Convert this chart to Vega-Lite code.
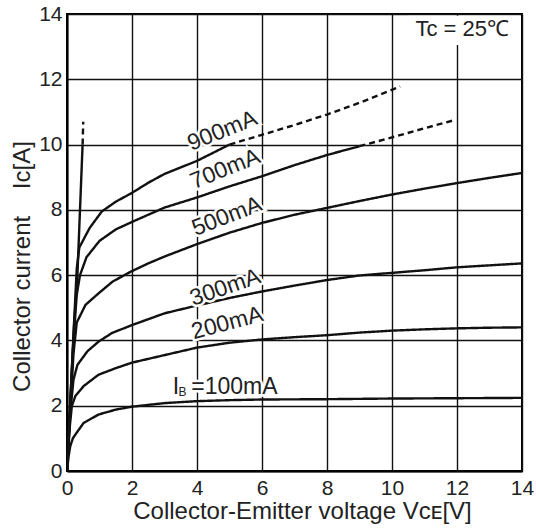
{
  "$schema": "https://vega.github.io/schema/vega-lite/v6.json",
  "width": 455,
  "height": 457,
  "autosize": "none",
  "padding": {"left": 67, "top": 14, "right": 14, "bottom": 59},
  "background": "white",
  "config": {
    "view": {"stroke": "#000", "strokeWidth": 2},
    "font": "Liberation Sans"
  },
  "datasets": {
    "curves": [
      {"s":"sat","p":"solid","v":0,"i":0},{"s":"sat","p":"solid","v":0.12,"i":2.5},{"s":"sat","p":"solid","v":0.22,"i":4.5},{"s":"sat","p":"solid","v":0.32,"i":6.0},{"s":"sat","p":"solid","v":0.4,"i":8.0},{"s":"sat","p":"solid","v":0.48,"i":10.0},
      {"s":"sat","p":"dashed","v":0.48,"i":10.0},{"s":"sat","p":"dashed","v":0.5,"i":10.7},
      {"s":"100mA","p":"solid","v":0,"i":0},{"s":"100mA","p":"solid","v":0.05,"i":0.45},{"s":"100mA","p":"solid","v":0.1,"i":0.76},{"s":"100mA","p":"solid","v":0.18,"i":1.0},{"s":"100mA","p":"solid","v":0.26,"i":1.12},{"s":"100mA","p":"solid","v":0.51,"i":1.47},{"s":"100mA","p":"solid","v":0.97,"i":1.73},{"s":"100mA","p":"solid","v":1.5,"i":1.88},{"s":"100mA","p":"solid","v":2,"i":1.97},{"s":"100mA","p":"solid","v":3,"i":2.08},{"s":"100mA","p":"solid","v":4,"i":2.14},{"s":"100mA","p":"solid","v":5,"i":2.17},{"s":"100mA","p":"solid","v":6,"i":2.19},{"s":"100mA","p":"solid","v":8,"i":2.2},{"s":"100mA","p":"solid","v":10,"i":2.22},{"s":"100mA","p":"solid","v":12,"i":2.23},{"s":"100mA","p":"solid","v":14,"i":2.24},
      {"s":"200mA","p":"solid","v":0,"i":0},{"s":"200mA","p":"solid","v":0.08,"i":1.3},{"s":"200mA","p":"solid","v":0.15,"i":2.0},{"s":"200mA","p":"solid","v":0.26,"i":2.3},{"s":"200mA","p":"solid","v":0.51,"i":2.6},{"s":"200mA","p":"solid","v":0.97,"i":2.95},{"s":"200mA","p":"solid","v":1.5,"i":3.15},{"s":"200mA","p":"solid","v":2,"i":3.32},{"s":"200mA","p":"solid","v":3,"i":3.55},{"s":"200mA","p":"solid","v":4,"i":3.78},{"s":"200mA","p":"solid","v":5,"i":3.93},{"s":"200mA","p":"solid","v":6,"i":4.03},{"s":"200mA","p":"solid","v":7,"i":4.1},{"s":"200mA","p":"solid","v":8,"i":4.16},{"s":"200mA","p":"solid","v":9,"i":4.24},{"s":"200mA","p":"solid","v":10,"i":4.3},{"s":"200mA","p":"solid","v":11,"i":4.34},{"s":"200mA","p":"solid","v":12,"i":4.37},{"s":"200mA","p":"solid","v":13,"i":4.39},{"s":"200mA","p":"solid","v":14,"i":4.4},
      {"s":"300mA","p":"solid","v":0,"i":0},{"s":"300mA","p":"solid","v":0.1,"i":1.8},{"s":"300mA","p":"solid","v":0.2,"i":2.8},{"s":"300mA","p":"solid","v":0.32,"i":3.25},{"s":"300mA","p":"solid","v":0.63,"i":3.67},{"s":"300mA","p":"solid","v":0.98,"i":3.97},{"s":"300mA","p":"solid","v":1.39,"i":4.23},{"s":"300mA","p":"solid","v":2,"i":4.47},{"s":"300mA","p":"solid","v":3,"i":4.83},{"s":"300mA","p":"solid","v":4,"i":5.07},{"s":"300mA","p":"solid","v":5,"i":5.3},{"s":"300mA","p":"solid","v":6,"i":5.5},{"s":"300mA","p":"solid","v":7,"i":5.68},{"s":"300mA","p":"solid","v":8,"i":5.85},{"s":"300mA","p":"solid","v":9,"i":5.99},{"s":"300mA","p":"solid","v":10,"i":6.07},{"s":"300mA","p":"solid","v":11,"i":6.15},{"s":"300mA","p":"solid","v":12,"i":6.24},{"s":"300mA","p":"solid","v":13,"i":6.3},{"s":"300mA","p":"solid","v":14,"i":6.36},
      {"s":"500mA","p":"solid","v":0,"i":0},{"s":"500mA","p":"solid","v":0.1,"i":1.9},{"s":"500mA","p":"solid","v":0.2,"i":3.6},{"s":"500mA","p":"solid","v":0.3,"i":4.55},{"s":"500mA","p":"solid","v":0.57,"i":5.09},{"s":"500mA","p":"solid","v":0.98,"i":5.45},{"s":"500mA","p":"solid","v":1.4,"i":5.8},{"s":"500mA","p":"solid","v":1.95,"i":6.1},{"s":"500mA","p":"solid","v":2.5,"i":6.36},{"s":"500mA","p":"solid","v":3,"i":6.57},{"s":"500mA","p":"solid","v":4,"i":6.95},{"s":"500mA","p":"solid","v":5,"i":7.3},{"s":"500mA","p":"solid","v":6,"i":7.6},{"s":"500mA","p":"solid","v":7,"i":7.85},{"s":"500mA","p":"solid","v":8,"i":8.06},{"s":"500mA","p":"solid","v":9,"i":8.27},{"s":"500mA","p":"solid","v":10,"i":8.47},{"s":"500mA","p":"solid","v":11,"i":8.65},{"s":"500mA","p":"solid","v":12,"i":8.82},{"s":"500mA","p":"solid","v":13,"i":8.98},{"s":"500mA","p":"solid","v":14,"i":9.13},
      {"s":"700mA","p":"solid","v":0,"i":0},{"s":"700mA","p":"solid","v":0.1,"i":2.0},{"s":"700mA","p":"solid","v":0.2,"i":4.0},{"s":"700mA","p":"solid","v":0.3,"i":5.4},{"s":"700mA","p":"solid","v":0.4,"i":6.0},{"s":"700mA","p":"solid","v":0.6,"i":6.55},{"s":"700mA","p":"solid","v":1.0,"i":7.05},{"s":"700mA","p":"solid","v":1.5,"i":7.4},{"s":"700mA","p":"solid","v":2,"i":7.63},{"s":"700mA","p":"solid","v":2.5,"i":7.85},{"s":"700mA","p":"solid","v":3,"i":8.07},{"s":"700mA","p":"solid","v":4,"i":8.38},{"s":"700mA","p":"solid","v":5,"i":8.72},{"s":"700mA","p":"solid","v":6,"i":9.03},{"s":"700mA","p":"solid","v":7,"i":9.37},{"s":"700mA","p":"solid","v":8,"i":9.68},{"s":"700mA","p":"solid","v":9,"i":9.95},
      {"s":"700mA","p":"dashed","v":9,"i":9.95},{"s":"700mA","p":"dashed","v":10,"i":10.22},{"s":"700mA","p":"dashed","v":11,"i":10.5},{"s":"700mA","p":"dashed","v":11.85,"i":10.73},
      {"s":"900mA","p":"solid","v":0,"i":0},{"s":"900mA","p":"solid","v":0.1,"i":2.1},{"s":"900mA","p":"solid","v":0.2,"i":4.2},{"s":"900mA","p":"solid","v":0.3,"i":6.2},{"s":"900mA","p":"solid","v":0.38,"i":6.85},{"s":"900mA","p":"solid","v":0.7,"i":7.45},{"s":"900mA","p":"solid","v":1.07,"i":7.95},{"s":"900mA","p":"solid","v":1.5,"i":8.25},{"s":"900mA","p":"solid","v":2,"i":8.52},{"s":"900mA","p":"solid","v":2.5,"i":8.83},{"s":"900mA","p":"solid","v":3,"i":9.1},{"s":"900mA","p":"solid","v":4,"i":9.5},{"s":"900mA","p":"solid","v":5,"i":10.0},
      {"s":"900mA","p":"dashed","v":5,"i":10.0},{"s":"900mA","p":"dashed","v":6,"i":10.3},{"s":"900mA","p":"dashed","v":7,"i":10.6},{"s":"900mA","p":"dashed","v":8,"i":10.92},{"s":"900mA","p":"dashed","v":9,"i":11.28},{"s":"900mA","p":"dashed","v":10.25,"i":11.78}
    ],
    "labels": [
      {"t":"900mA","v":4.78,"i":10.42},
      {"t":"700mA","v":4.87,"i":9.25},
      {"t":"500mA","v":4.92,"i":7.8},
      {"t":"300mA","v":4.87,"i":5.62},
      {"t":"200mA","v":4.93,"i":4.53},
      {"t":"=100mA","v":5.15,"i":2.56},
      {"t":"I","v":3.35,"i":2.56}
    ]
  },
  "layer": [
    {
      "data": {"name": "curves"},
      "mark": {"type": "line", "color": "#111", "strokeWidth": 2.4, "clip": true},
      "encoding": {
        "x": {
          "field": "v", "type": "quantitative",
          "scale": {"domain": [0, 14], "nice": false, "zero": false},
          "axis": {
            "values": [0,1,2,3,4,5,6,7,8,9,10,11,12,13,14],
            "labelExpr": "datum.value % 2 === 0 ? datum.label : ''",
            "labelFlush": false, "labelOverlap": false,
            "ticks": false, "grid": true, "gridColor": "#111", "gridWidth": 1.4,
            "domainColor": "#000", "domainWidth": 2,
            "labelFont": "Liberation Sans", "labelFontSize": 21, "labelColor": "#222", "labelPadding": 6,
            "title": "Collector-Emitter voltage Vᴄᴇ[V]",
            "titleFont": "Liberation Sans", "titleFontSize": 24, "titleFontWeight": "normal", "titleColor": "#222",
            "titleX": 235, "titleY": 40, "titleBaseline": "middle", "titleAlign": "center"
          }
        },
        "y": {
          "field": "i", "type": "quantitative",
          "scale": {"domain": [0, 14], "nice": false, "zero": false},
          "axis": {
            "values": [0,1,2,3,4,5,6,7,8,9,10,11,12,13,14],
            "labelExpr": "datum.value % 2 === 0 ? datum.label : ''",
            "labelFlush": false, "labelOverlap": false,
            "ticks": false, "grid": true, "gridColor": "#111", "gridWidth": 1.4,
            "domainColor": "#000", "domainWidth": 2,
            "labelFont": "Liberation Sans", "labelFontSize": 21, "labelColor": "#222", "labelPadding": 5,
            "title": "Collector current \u00a0\u00a0\u00a0Ic[A]",
            "titleFont": "Liberation Sans", "titleFontSize": 24, "titleFontWeight": "normal", "titleColor": "#222",
            "titleX": -45, "titleY": 252, "titleBaseline": "middle", "titleAlign": "center", "titleAngle": -90
          }
        },
        "detail": {"field": "s"},
        "strokeDash": {
          "field": "p", "type": "nominal",
          "scale": {"domain": ["solid", "dashed"], "range": [[1, 0], [6, 4]]},
          "legend": null
        }
      }
    },
    {
      "data": {"values": [{"v": 10.5, "v2": 13.95, "i": 13.05, "i2": 13.95}]},
      "mark": {"type": "rect", "fill": "white", "stroke": null},
      "encoding": {
        "x": {"field": "v", "type": "quantitative"},
        "x2": {"field": "v2"},
        "y": {"field": "i", "type": "quantitative"},
        "y2": {"field": "i2"}
      }
    },
    {
      "data": {"values": [{"t": "Tc = 25℃", "v": 12.16, "i": 13.54}]},
      "mark": {"type": "text", "font": "Liberation Sans", "fontSize": 22, "color": "#222", "align": "center", "baseline": "middle"},
      "encoding": {
        "x": {"field": "v", "type": "quantitative"},
        "y": {"field": "i", "type": "quantitative"},
        "text": {"field": "t"}
      }
    },
    {
      "data": {"name": "labels"},
      "mark": {"type": "text", "font": "Liberation Sans", "fontSize": 23, "fill": "white", "stroke": "white", "strokeWidth": 5, "align": "center", "baseline": "middle",
        "angle": {"expr": "datum.t === '200mA' ? 345 : datum.t === '300mA' ? 341 : datum.t === '500mA' ? 339 : (datum.t === '900mA' || datum.t === '700mA') ? 338 : 0"}},
      "encoding": {
        "x": {"field": "v", "type": "quantitative"},
        "y": {"field": "i", "type": "quantitative"},
        "text": {"field": "t"}
      }
    },
    {
      "data": {"name": "labels"},
      "mark": {"type": "text", "font": "Liberation Sans", "fontSize": 23, "fill": "#222", "align": "center", "baseline": "middle",
        "angle": {"expr": "datum.t === '200mA' ? 345 : datum.t === '300mA' ? 341 : datum.t === '500mA' ? 339 : (datum.t === '900mA' || datum.t === '700mA') ? 338 : 0"}},
      "encoding": {
        "x": {"field": "v", "type": "quantitative"},
        "y": {"field": "i", "type": "quantitative"},
        "text": {"field": "t"}
      }
    },
    {
      "data": {"values": [{"t": "B", "v": 3.55, "i": 2.42}]},
      "mark": {"type": "text", "font": "Liberation Sans", "fontSize": 12, "fill": "#222", "align": "center", "baseline": "middle"},
      "encoding": {
        "x": {"field": "v", "type": "quantitative"},
        "y": {"field": "i", "type": "quantitative"},
        "text": {"field": "t"}
      }
    }
  ]
}
